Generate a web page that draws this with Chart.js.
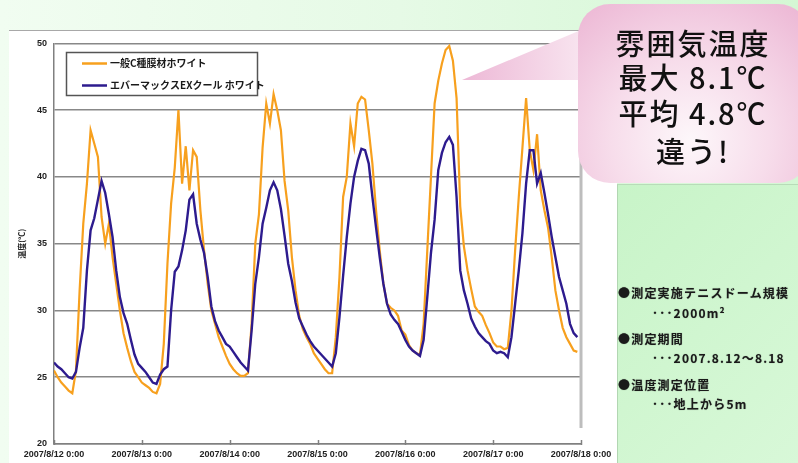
<!DOCTYPE html>
<html><head><meta charset="utf-8">
<script src="https://cdn.jsdelivr.net/npm/chart.js"></script>
<style>
html,body{margin:0;padding:0;}
body{width:798px;height:463px;overflow:hidden;position:relative;background:linear-gradient(90deg,#f1fdf1 0%,#e6fae6 50%,#d4f7d4 100%);font-family:"Noto Sans CJK JP",sans-serif;}
#panel{position:absolute;left:9px;top:30px;width:608px;height:433px;background:#fff;border-top:1px solid #a8a8a8;}
#wrap{position:absolute;left:0;top:0;width:608px;height:432px;}
#side{position:absolute;left:617px;top:184px;width:181px;height:279px;background:linear-gradient(135deg,#c8f4c8,#d8f8d8);border-left:1px solid #b2d6b2;border-top:1px solid #b8dcb8;}
#bubble{position:absolute;left:0;top:0;pointer-events:none;}
.bt{position:absolute;left:583px;width:220px;text-align:center;font-size:29px;font-weight:500;letter-spacing:2px;color:#111;line-height:34px;white-space:nowrap;}
.st{position:absolute;font-size:12px;font-weight:bold;letter-spacing:1.2px;color:#1a1a1a;line-height:16px;white-space:nowrap;text-shadow:0 0 1px rgba(0,0,0,.45);}
</style></head>
<body>
<div id="panel"><div id="wrap"><canvas id="c"></canvas></div></div>
<div id="side"></div>
<svg id="bubble" width="798" height="463">
<defs>
<radialGradient id="bg" cx="690" cy="140" r="175" gradientUnits="userSpaceOnUse">
<stop offset="0" stop-color="#fdf7fa"/><stop offset="0.45" stop-color="#f7ddeb"/><stop offset="1" stop-color="#ecb6d4"/>
</radialGradient>
<linearGradient id="tg" x1="462" y1="0" x2="595" y2="0" gradientUnits="userSpaceOnUse">
<stop offset="0" stop-color="#edb8d6"/><stop offset="1" stop-color="#f9e9f2"/>
</linearGradient>
</defs>
<path d="M462 80 L600 22 L600 80 Z" fill="url(#tg)"/>
<rect x="578" y="4" width="232" height="179" rx="32" ry="32" fill="url(#bg)"/>
</svg>
<div class="bt" style="top:25px">雰囲気温度</div>
<div class="bt" style="top:59px">最大 8.1℃</div>
<div class="bt" style="top:95px">平均 4.8℃</div>
<div class="bt" style="top:133px">違う!</div>
<div class="st" style="left:618px;top:285px">●測定実施テニスドーム規模</div>
<div class="st" style="left:652px;top:305px">･･･2000m²</div>
<div class="st" style="left:618px;top:331px">●測定期間</div>
<div class="st" style="left:652px;top:350px">･･･2007.8.12～8.18</div>
<div class="st" style="left:618px;top:377px">●温度測定位置</div>
<div class="st" style="left:652px;top:396px">･･･地上から5m</div>
<script>
const tickLabels = ['2007/8/12 0:00','2007/8/13 0:00','2007/8/14 0:00','2007/8/15 0:00','2007/8/16 0:00','2007/8/17 0:00','2007/8/18 0:00'];
const seriesNames = ['一般C種膜材ホワイト','エバーマックスEXクール ホワイト'];
const yTitle = '温度(℃)';
const yTicks = [20,25,30,35,40,45,50];
// hourly readings from 2007/8/12 0:00
const orangeTemps = [
25.5,25.0,24.6,24.3,24.0,23.8,25.5,31.5,36.5,39.5,43.5,42.5,41.5,37.0,35.0,36.5,34.0,32.0,30.0,28.3,27.2,26.2,25.4,25.0,
24.6,24.4,24.2,23.9,23.8,24.5,27.5,33.5,38.0,40.7,45.0,39.5,42.3,39.0,42.0,41.5,37.5,34.5,32.0,30.0,29.0,28.0,27.3,26.6,
26.0,25.6,25.3,25.1,25.1,25.3,29.0,35.0,37.2,42.2,45.5,44.0,46.2,45.0,43.5,39.7,37.5,34.0,31.5,29.6,28.6,28.0,27.5,26.8,
26.4,26.0,25.6,25.3,25.3,28.0,32.5,38.5,40.0,44.0,42.3,45.5,46.0,45.8,43.5,41.0,37.5,34.5,32.0,30.5,30.2,30.0,29.6,28.5,
28.2,27.4,27.0,26.8,26.7,29.0,34.5,40.0,45.5,47.2,48.5,49.5,49.8,48.7,45.9,37.8,34.8,33.0,31.6,30.3,29.9,29.6,28.9,28.3,
27.6,27.3,27.3,27.1,27.2,30.0,34.5,38.5,42.2,45.9,42.0,40.5,43.2,39.0,37.5,36.2,34.0,31.5,30.0,28.7,28.0,27.5,27.0,26.9
];
const blueTemps = [
26.1,25.8,25.6,25.3,25.0,24.9,25.4,27.2,28.7,33.0,36.0,36.9,38.3,39.7,38.8,37.2,35.5,33.0,31.0,29.8,29.0,27.8,26.7,26.0,
25.7,25.4,25.0,24.6,24.5,25.2,25.6,25.8,30.0,32.9,33.3,34.5,36.0,38.3,38.7,36.5,35.3,34.3,32.5,30.3,29.2,28.5,28.0,27.5,
27.3,26.9,26.5,26.1,25.8,25.5,28.5,32.0,34.0,36.5,37.7,39.0,39.6,39.0,37.6,35.6,33.5,32.2,30.6,29.4,28.8,28.2,27.7,27.3,
27.0,26.7,26.4,26.1,25.8,26.8,29.5,32.6,35.5,38.0,40.0,41.2,42.1,42.0,41.0,38.5,36.2,34.0,32.0,30.5,29.7,29.3,29.0,28.4,
27.8,27.3,27.0,26.8,26.6,27.8,31.0,34.3,36.8,40.5,41.8,42.6,43.0,42.4,38.5,33.0,31.5,30.5,29.4,28.8,28.3,28.0,27.7,27.5,
27.0,26.8,26.9,26.8,26.5,28.0,30.5,33.0,35.8,39.5,42.0,42.0,39.5,40.3,38.8,37.2,35.5,34.0,32.5,31.5,30.5,29.0,28.3,28.0
];
const seriesColors = ['#f7a01e','#2d1b8e'];

const toPts = arr => arr.map((v,i)=>({x:i,y:v}));

const extras = {
  id:'extras',
  afterDatasetsDraw(chart){
    const ctx = chart.ctx, a = chart.chartArea, xs = chart.scales.x;
    ctx.save();
    ctx.strokeStyle = '#bdbdbd'; ctx.lineWidth = 3;
    ctx.beginPath(); ctx.moveTo(a.right, a.top); ctx.lineTo(a.right, a.bottom-16); ctx.stroke();
    ctx.strokeStyle = '#808080'; ctx.lineWidth = 1.5;
    xs.ticks.forEach(t=>{ const px = Math.round(xs.getPixelForValue(t.value))+0.5;
      ctx.beginPath(); ctx.moveTo(px, a.bottom-4); ctx.lineTo(px, a.bottom+1); ctx.stroke(); });
    const bx = 57.5, by = 21.5, bw = 191, bh = 43;
    ctx.fillStyle = '#fff'; ctx.fillRect(bx,by,bw,bh);
    ctx.strokeStyle = '#555'; ctx.lineWidth = 1.5; ctx.strokeRect(bx,by,bw,bh);
    ctx.font = 'bold 10px "Noto Sans CJK JP"'; ctx.textBaseline = 'middle'; ctx.textAlign = 'left';
    chart.data.datasets.forEach((ds,i)=>{
      const y = 32.5 + i*22;
      ctx.strokeStyle = ds.borderColor; ctx.lineWidth = 2.5;
      ctx.beginPath(); ctx.moveTo(73, y); ctx.lineTo(98, y); ctx.stroke();
      ctx.fillStyle = '#1a1a1a'; ctx.fillText(ds.label, 101, y);
    });
    ctx.restore();
  }
};

new Chart(document.getElementById('c'), {
  type:'line',
  data:{datasets:[
    {label:seriesNames[0], data:toPts(orangeTemps), borderColor:seriesColors[0], borderWidth:2.2, pointRadius:0, tension:0, fill:false, order:1},
    {label:seriesNames[1], data:toPts(blueTemps), borderColor:seriesColors[1], borderWidth:2.4, pointRadius:0, tension:0, fill:false, order:0}
  ]},
  options:{
    responsive:true, maintainAspectRatio:false, animation:false, devicePixelRatio:1,
    layout:{padding:{left:0,right:36,top:11,bottom:0}},
    plugins:{legend:{display:false}, tooltip:{enabled:false}},
    scales:{
      x:{type:'linear', min:0, max:144,
        ticks:{stepSize:24, autoSkip:false, maxRotation:0, padding:5, color:'#222',
          font:{family:'"Liberation Sans"', size:9, weight:'bold'},
          callback:(v)=>tickLabels[Math.round(v/24)]},
        grid:{drawOnChartArea:false, drawTicks:false},
        border:{color:'#808080', width:1.5},
        afterFit:s=>{s.height=19;}
      },
      y:{min:20, max:50,
        afterBuildTicks:s=>{s.ticks = yTicks.map(v=>({value:v}));},
        ticks:{padding:7, color:'#222', font:{family:'"Liberation Sans"', size:9, weight:'bold'}},
        grid:{color:'#888', lineWidth:1.5, drawTicks:false},
        border:{color:'#808080', width:1.5},
        title:{display:true, text:yTitle, color:'#222', font:{family:'"Noto Sans CJK JP"', size:8, weight:'bold'}, padding:{top:8,bottom:0}},
        afterFit:s=>{s.width=45;}
      }
    }
  },
  plugins:[extras]
});
</script>
</body></html>
